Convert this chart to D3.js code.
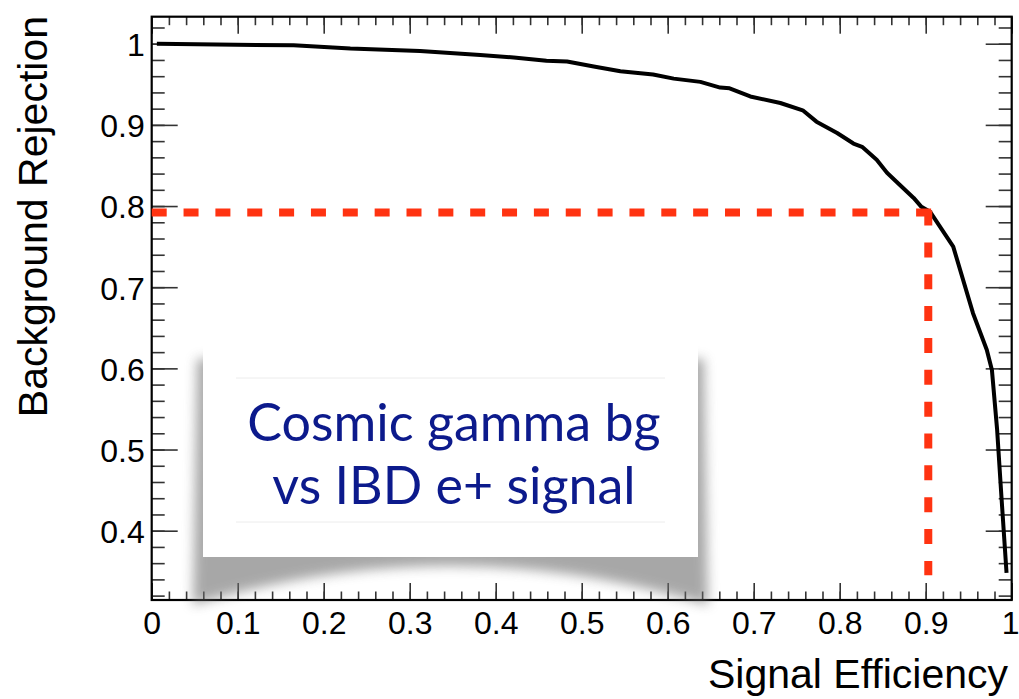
<!DOCTYPE html>
<html>
<head>
<meta charset="utf-8">
<script src="https://cdn.jsdelivr.net/npm/d3@7"></script>
<style>
  body { margin: 0; background: #fff; }
  svg { display: block; }
  .tick text { font-family: "Liberation Sans", Arial, Helvetica, sans-serif; fill: #000; }
</style>
</head>
<body>
<svg id="chart" width="1019" height="699"></svg>
<script>
// ROC curve: signal efficiency vs background rejection
const efficiency = [0.006, 0.165, 0.231, 0.312, 0.382, 0.421, 0.459, 0.483, 0.514, 0.545,
                    0.583, 0.607, 0.638, 0.661, 0.672, 0.696, 0.731, 0.757, 0.773, 0.797,
                    0.816, 0.826, 0.843, 0.855, 0.866, 0.886, 0.895, 0.905, 0.932, 0.955,
                    0.971, 0.977, 0.983, 0.988, 0.994];
const rejection  = [1.000, 0.998, 0.994, 0.991, 0.986, 0.983, 0.979, 0.978, 0.972, 0.966,
                    0.962, 0.957, 0.953, 0.946, 0.945, 0.935, 0.927, 0.918, 0.904, 0.890,
                    0.877, 0.873, 0.857, 0.841, 0.830, 0.810, 0.799, 0.793, 0.750, 0.668,
                    0.623, 0.598, 0.525, 0.443, 0.348];

// Working point marked by the dashed guide lines
const cutEfficiency = 0.903;
const cutRejection = 0.792;
const guideFloor = 0.345;

const xMajorTicks = [0, 0.1, 0.2, 0.3, 0.4, 0.5, 0.6, 0.7, 0.8, 0.9, 1];
const yMajorTicks = [0.4, 0.5, 0.6, 0.7, 0.8, 0.9, 1];
const xTickLabels = ["0", "0.1", "0.2", "0.3", "0.4", "0.5", "0.6", "0.7", "0.8", "0.9", "1"];
const yTickLabels = ["0.4", "0.5", "0.6", "0.7", "0.8", "0.9", "1"];
const minorStep = 0.02;

const xTitle = "Signal Efficiency";
const yTitle = "Background Rejection";
const boxLines = ["Cosmic gamma bg", "vs IBD e+ signal"];

const svg = d3.select("#chart");
const W = 1019;
const frame = { left: 151.7, right: 1011.7, top: 16.7, bottom: 600 };

const x = d3.scaleLinear().domain([0, 1]).range([frame.left, frame.right]);
const y = d3.scaleLinear().domain([0.3146, 1.0333]).range([frame.bottom, frame.top]);

const xMinor = d3.range(0, 1.0001, minorStep).map(v => +v.toFixed(2));
const yMinor = d3.range(0.32, 1.0334, minorStep).map(v => +v.toFixed(2));

const defs = svg.append("defs");
const blur = defs.append("filter").attr("id", "soft").attr("x", "-20%").attr("y", "-20%")
  .attr("width", "140%").attr("height", "160%");
blur.append("feGaussianBlur").attr("stdDeviation", 6);

const fmtX = d => xTickLabels[xMajorTicks.indexOf(d)];
const fmtY = d => yTickLabels[yMajorTicks.indexOf(d)];

// minor ticks on all four sides
function styleTicks(g) {
  g.select(".domain").remove();
  g.selectAll(".tick line").attr("stroke", "#333").attr("stroke-width", 1.6);
}
svg.append("g").attr("transform", `translate(0,${frame.bottom})`)
  .call(d3.axisBottom(x).tickValues(xMinor).tickSize(-8.5).tickFormat(""))
  .call(styleTicks);
svg.append("g").attr("transform", `translate(0,${frame.top})`)
  .call(d3.axisTop(x).tickValues(xMinor).tickSize(-8.5).tickFormat(""))
  .call(styleTicks);
svg.append("g").attr("transform", `translate(${frame.left},0)`)
  .call(d3.axisLeft(y).tickValues(yMinor).tickSize(-13).tickFormat(""))
  .call(styleTicks);
svg.append("g").attr("transform", `translate(${frame.right},0)`)
  .call(d3.axisRight(y).tickValues(yMinor).tickSize(-13).tickFormat(""))
  .call(styleTicks);

// major ticks with labels
const xAxis = svg.append("g").attr("transform", `translate(0,${frame.bottom})`)
  .call(d3.axisBottom(x).tickValues(xMajorTicks).tickSize(-17).tickPadding(11).tickFormat(fmtX))
  .call(styleTicks);
xAxis.selectAll("text").attr("font-size", 32).attr("dy", "0.71em");
// keep the last label inside the page edge
xAxis.selectAll(".tick").filter(d => d === 1).select("text")
  .attr("text-anchor", "end").attr("x", W - x(1));
svg.append("g").attr("transform", `translate(0,${frame.top})`)
  .call(d3.axisTop(x).tickValues(xMajorTicks).tickSize(-17).tickFormat(""))
  .call(styleTicks);
const yAxis = svg.append("g").attr("transform", `translate(${frame.left},0)`)
  .call(d3.axisLeft(y).tickValues(yMajorTicks).tickSize(-26).tickPadding(7).tickFormat(fmtY))
  .call(styleTicks);
yAxis.selectAll("text").attr("font-size", 32).attr("dy", "0.37em");
svg.append("g").attr("transform", `translate(${frame.right},0)`)
  .call(d3.axisRight(y).tickValues(yMajorTicks).tickSize(-26).tickFormat(""))
  .call(styleTicks);

// frame
svg.append("rect")
  .attr("x", frame.left).attr("y", frame.top)
  .attr("width", frame.right - frame.left).attr("height", frame.bottom - frame.top)
  .attr("fill", "none").attr("stroke", "#000").attr("stroke-width", 2.2);

// ROC curve
const pts = efficiency.map((e, i) => [e, rejection[i]]);
svg.append("path")
  .datum(pts)
  .attr("fill", "none")
  .attr("stroke", "#000")
  .attr("stroke-width", 4)
  .attr("stroke-linejoin", "round")
  .attr("d", d3.line().x(d => x(d[0])).y(d => y(d[1])));

// dashed guide lines at the working point
const guide = svg.append("g").attr("stroke", "#ff3311").attr("stroke-width", 8)
  .attr("stroke-dasharray", "15,16.85").attr("fill", "none");
guide.append("line")
  .attr("x1", x(0)).attr("x2", x(cutEfficiency) + 4)
  .attr("y1", y(cutRejection)).attr("y2", y(cutRejection));
guide.append("line")
  .attr("x1", x(cutEfficiency)).attr("x2", x(cutEfficiency))
  .attr("y1", y(cutRejection) - 2).attr("y2", y(guideFloor));

// annotation box with lifted-corner shadow
const box = { x: 203, y: 345, w: 495, h: 212 };
const bx1 = box.x + box.w, by1 = box.y + box.h;
svg.append("path")
  .attr("d", `M${box.x - 6},${box.y + 14} L${bx1 + 6},${box.y + 14} L${bx1 + 10},${by1 + 48}
              Q${box.x + box.w / 2},${by1 - 30} ${box.x - 10},${by1 + 48} Z`)
  .attr("fill", "#6e6e6e").attr("opacity", 0.6)
  .attr("filter", "url(#soft)");
svg.append("rect")
  .attr("x", box.x).attr("y", box.y).attr("width", box.w).attr("height", box.h)
  .attr("fill", "#fff");
[378, 522].forEach(ly => {
  svg.append("line").attr("x1", 236).attr("x2", 665).attr("y1", ly).attr("y2", ly)
    .attr("stroke", "#ececec").attr("stroke-width", 1);
});
const boxText = svg.append("g")
  .attr("font-family", "Lato, 'Open Sans', sans-serif")
  .attr("font-size", 52)
  .attr("fill", "#0c1a8c")
  .attr("text-anchor", "middle");
boxText.selectAll("text").data(boxLines).join("text")
  .attr("x", 454)
  .attr("y", (d, i) => 441 + i * 63)
  .text(d => d);

// axis titles
svg.append("text")
  .attr("x", 1008).attr("y", 688)
  .attr("text-anchor", "end")
  .attr("font-family", "'Liberation Sans', Arial, Helvetica, sans-serif")
  .attr("font-size", 41)
  .text(xTitle);
svg.append("text")
  .attr("transform", "translate(47,16) rotate(-90)")
  .attr("text-anchor", "end")
  .attr("font-family", "'Liberation Sans', Arial, Helvetica, sans-serif")
  .attr("font-size", 41)
  .text(yTitle);
</script>
</body>
</html>
